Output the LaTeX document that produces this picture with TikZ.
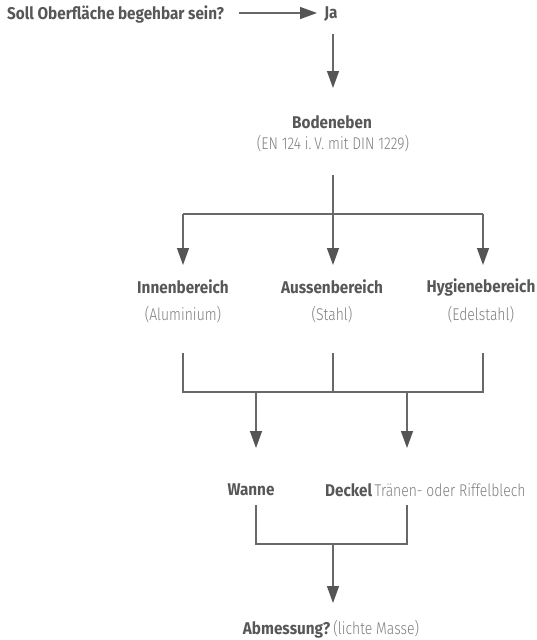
\documentclass[tikz,border=0pt]{standalone}
\usepackage{fontspec}
\setmainfont[FakeStretch=0.9]{Fira Sans}
\newfontfamily\lightfont[FakeStretch=0.82]{Fira Sans Light}
\usetikzlibrary{arrows.meta}
\definecolor{txtdark}{HTML}{575757}
\definecolor{txtlight}{HTML}{7E7E7E}
\definecolor{linegray}{HTML}{686868}
\definecolor{tipgray}{HTML}{555555}
\newcommand{\bfpart}{\fontsize{17}{19}\selectfont\bfseries\color{txtdark}}
\newcommand{\ltpart}{\fontsize{17}{19}\selectfont\lightfont\mdseries\color{txtlight}}
\begin{document}
\begin{tikzpicture}[x=1pt,y=-1pt,
  lbl/.style={inner sep=0pt,font=\bfpart},
  sub/.style={inner sep=0pt,font=\ltpart},
  conn/.style={draw=linegray,line width=1.4pt},
  arr/.style={conn,-{Triangle[length=17pt,width=12pt,color=tipgray]}}]
\useasboundingbox (0,0) rectangle (537,640);
% nodes
\node[lbl,anchor=west] (q) at (7,14) {Soll Oberfläche begehbar sein?};
\node[lbl] (ja) at (331,14) {Ja};
\node[lbl] (bod) at (332,122) {Bodeneben};
\node[sub] (bodsub) at (333,144) {(EN 124 i.\,V. mit DIN 1229)};
\node[lbl] (innen) at (183,287) {Innenbereich};
\node[sub] (innensub) at (183,315) {(Aluminium)};
\node[lbl] (aussen) at (332,287) {Aussenbereich};
\node[sub] (aussensub) at (332,315) {(Stahl)};
\node[lbl] (hyg) at (481,287) {Hygienebereich};
\node[sub] (hygsub) at (481,315) {(Edelstahl)};
\node[lbl] (wanne) at (251,490) {Wanne};
\node[anchor=west,inner sep=0pt] (deckel) at (325,490) {{\bfpart Deckel} {\ltpart Tränen- oder Riffelblech}};
\node[inner sep=0pt] (abm) at (331,629) {{\bfpart Abmessung?} {\ltpart (lichte Masse)}};
% coordinates
\coordinate (qa) at (239,13);
\coordinate (qb) at (317,13);
\coordinate (ja1) at (333,34);
\coordinate (ja2) at (333,88);
\coordinate (b0) at (333,175);
\coordinate (bL) at (183,214);
\coordinate (bM) at (333,214);
\coordinate (bR) at (483,214);
\coordinate (tL) at (183,265);
\coordinate (tM) at (333,265);
\coordinate (tR) at (483,265);
\coordinate (uL) at (183,353);
\coordinate (uM) at (333,353);
\coordinate (uR) at (483,353);
\coordinate (hL) at (183,392);
\coordinate (hM) at (333,392);
\coordinate (hR) at (483,392);
\coordinate (w0) at (256,392);
\coordinate (d0) at (407,392);
\coordinate (w1) at (256,448);
\coordinate (d1) at (407,448);
\coordinate (w2) at (256,505);
\coordinate (d2) at (407,505);
\coordinate (w3) at (256,544);
\coordinate (d3) at (407,544);
\coordinate (m3) at (333,544);
\coordinate (m4) at (333,603);
% connectors
\draw[arr] (qa) -- (qb);
\draw[arr] (ja1) -- (ja2);
\draw[arr] (b0) -- (tM);
\draw[conn] (bL) -- (bR);
\draw[arr] (bL) -- (tL);
\draw[arr] (bR) -- (tR);
\draw[conn] (uL) -- (hL) -- (hR) -- (uR);
\draw[conn] (uM) -- (hM);
\draw[arr] (w0) -- (w1);
\draw[arr] (d0) -- (d1);
\draw[conn] (w2) -- (w3) -- (d3) -- (d2);
\draw[arr] (m3) -- (m4);
\end{tikzpicture}
\end{document}
